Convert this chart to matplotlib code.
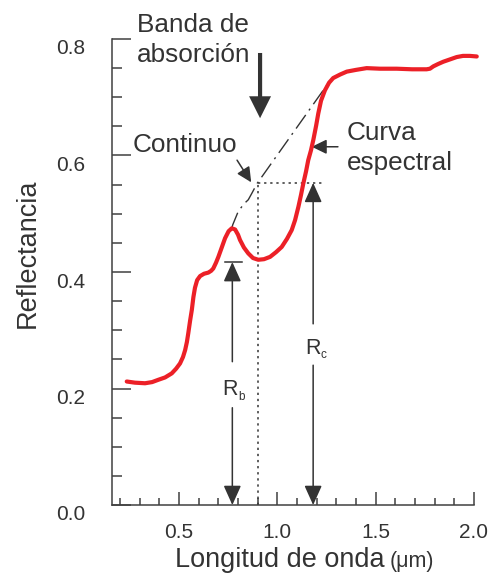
import matplotlib
matplotlib.use('Agg')
import matplotlib.pyplot as plt
from matplotlib.ticker import MultipleLocator
from matplotlib.transforms import ScaledTranslation

# curva espectral
longitud = [0.234, 0.276, 0.327, 0.363, 0.395, 0.429, 0.463, 0.485, 0.505, 0.520,
            0.531, 0.540, 0.547, 0.556, 0.565, 0.573, 0.581, 0.592, 0.607, 0.627,
            0.649, 0.663, 0.674, 0.688, 0.700, 0.716, 0.734, 0.752, 0.768, 0.785,
            0.800, 0.810, 0.830, 0.852, 0.876, 0.903, 0.932, 0.963, 0.993, 1.022,
            1.049, 1.073, 1.090, 1.107, 1.120, 1.132, 1.146, 1.157, 1.171, 1.183,
            1.197, 1.208, 1.222, 1.242, 1.263, 1.284, 1.319, 1.353, 1.400, 1.454,
            1.522, 1.607, 1.685, 1.759, 1.776, 1.793, 1.817, 1.844, 1.878, 1.912,
            1.944, 1.979, 2.014]
reflectancia = [0.212, 0.210, 0.209, 0.211, 0.215, 0.219, 0.226, 0.234, 0.243, 0.254,
                0.266, 0.280, 0.295, 0.316, 0.335, 0.357, 0.373, 0.386, 0.393, 0.397,
                0.399, 0.402, 0.406, 0.416, 0.426, 0.441, 0.458, 0.470, 0.475, 0.473,
                0.464, 0.455, 0.442, 0.432, 0.424, 0.421, 0.422, 0.426, 0.434, 0.443,
                0.457, 0.472, 0.489, 0.512, 0.532, 0.552, 0.573, 0.592, 0.609, 0.627,
                0.651, 0.672, 0.694, 0.712, 0.725, 0.733, 0.739, 0.744, 0.747, 0.750,
                0.749, 0.749, 0.748, 0.748, 0.749, 0.753, 0.757, 0.761, 0.765, 0.769,
                0.771, 0.771, 0.770]

# continuo
continuo_x = [0.768, 0.773, 0.801, 0.830, 0.852, 0.870, 0.897, 1.250]
continuo_y = [0.475, 0.481, 0.504, 0.517, 0.524, 0.535, 0.552, 0.720]

banda_x = 0.903      # centro de la banda
r_c = 0.553          # reflectancia del continuo
r_b = 0.417          # reflectancia en la banda
rb_x = 0.771
rc_x = 1.182

gris = '#333333'
rojo = '#ec2027'

plt.rcParams['font.family'] = ['Liberation Sans', 'DejaVu Sans']

fig = plt.figure(figsize=(4.92, 5.77), dpi=100)
ax = fig.add_axes([112/492, 1 - 505/577, (474 - 112)/492, (505 - 39)/577])

ax.plot(longitud, reflectancia, color=rojo, lw=3, solid_capstyle='round',
        solid_joinstyle='round', clip_on=False, zorder=4)
ax.plot(continuo_x, continuo_y, color=gris, lw=1, dashes=(12, 4, 1.5, 4), zorder=3)

# lineas punteadas
ax.plot([banda_x, banda_x], [0, r_c], color=gris, lw=1.1, ls=(0, (1.5, 2.5)), clip_on=False)
ax.plot([banda_x, 1.23], [r_c, r_c], color=gris, lw=1.1, ls=(0, (1.5, 2.5)))

ax.set_xlim(0.159, 2.0)
ax.set_ylim(0, 0.8)
for s in ['top', 'right']:
    ax.spines[s].set_visible(False)
for s in ['left', 'bottom']:
    ax.spines[s].set_color('#404040')
    ax.spines[s].set_linewidth(1.1)

ax.xaxis.set_major_locator(MultipleLocator(0.5))
ax.xaxis.set_minor_locator(MultipleLocator(0.1))
ax.yaxis.set_major_locator(MultipleLocator(0.2))
ax.yaxis.set_minor_locator(MultipleLocator(0.05))
ax.tick_params(which='both', direction='in', color='#404040', width=1.1, labelcolor=gris)
ax.tick_params(axis='y', which='major', length=14, pad=19, labelsize=15)
ax.tick_params(axis='y', which='minor', length=7)
ax.tick_params(axis='x', which='major', length=9.5, pad=13, labelsize=15)
ax.tick_params(axis='x', which='minor', length=5)

desplazar = ScaledTranslation(0, -0.08, fig.dpi_scale_trans)
for lbl in ax.get_yticklabels():
    lbl.set_transform(lbl.get_transform() + desplazar)

# titulos de ejes
fig.text(28/492, 1 - 253/577, 'Reflectancia', rotation=90, ha='center', va='center',
         fontsize=19.5, color=gris)
fig.text(175/492, 1 - 567/577, 'Longitud de onda', ha='left', va='baseline',
         fontsize=19.5, color=gris)
fig.text(390/492, 1 - 567/577, '(μm)', ha='left', va='baseline', fontsize=15.5, color=gris)

# textos
fs = 18.8
ax.text(0.287, 0.812, 'Banda de', fontsize=fs, color=gris, va='baseline')
ax.text(0.287, 0.761, 'absorción', fontsize=fs, color=gris, va='baseline')
ax.text(0.266, 0.606, 'Continuo', fontsize=fs, color=gris, va='baseline')
ax.text(1.354, 0.627, 'Curva', fontsize=fs, color=gris, va='baseline')
ax.text(1.354, 0.575, 'espectral', fontsize=fs, color=gris, va='baseline')

# flechas
ax.annotate('', xy=(0.912, 0.664), xytext=(0.912, 0.776),
            arrowprops=dict(arrowstyle='simple,head_length=0.79,head_width=0.79,tail_width=0.15',
                            fc=gris, ec='none', mutation_scale=20, shrinkA=0, shrinkB=0))
flecha = dict(arrowstyle='-|>,head_length=0.45,head_width=0.22', color=gris, lw=1.1,
              mutation_scale=20, shrinkA=0, shrinkB=0)
ax.annotate('', xy=(0.867, 0.554), xytext=(0.795, 0.592), arrowprops=flecha)
ax.annotate('', xy=(1.175, 0.615), xytext=(1.308, 0.615), arrowprops=flecha)

flecha_r = dict(arrowstyle='-|>,head_length=0.6,head_width=0.27', color=gris, lw=1.1,
                mutation_scale=20, shrinkA=0, shrinkB=0)
ax.annotate('', xy=(rb_x, r_b), xytext=(rb_x, 0.246), arrowprops=flecha_r)
ax.annotate('', xy=(rb_x, 0), xytext=(rb_x, 0.167), arrowprops=flecha_r, annotation_clip=False)
ax.plot([0.734, 0.819], [r_b, r_b], color=gris, lw=1.1)
ax.annotate('', xy=(rc_x, r_c), xytext=(rc_x, 0.311), arrowprops=flecha_r)
ax.annotate('', xy=(rc_x, 0), xytext=(rc_x, 0.240), arrowprops=flecha_r, annotation_clip=False)

ax.text(0.759, 0.189, 'R', fontsize=15.5, color=gris, ha='center', va='baseline')
ax.text(0.800, 0.181, 'b', fontsize=8.5, color=gris, ha='left', va='baseline')
ax.text(1.180, 0.260, 'R', fontsize=15.5, color=gris, ha='center', va='baseline')
ax.text(1.217, 0.252, 'c', fontsize=8.5, color=gris, ha='left', va='baseline')

fig.savefig('out.png', dpi=100)
